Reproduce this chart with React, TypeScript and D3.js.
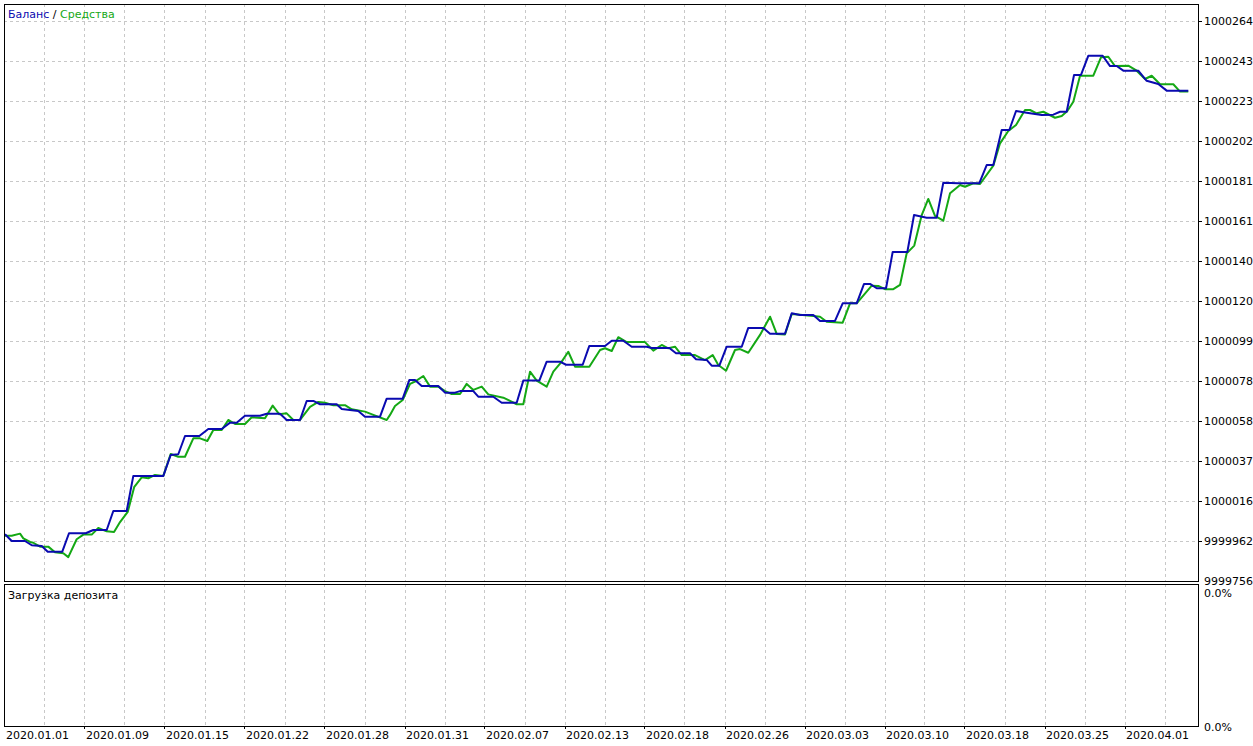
import React from 'react';
import * as d3 from 'd3';

// x: position in date-label units (label i sits at x = i); y: balance offset (chart units)
const dateLabels = [
  '2020.01.01', '2020.01.09', '2020.01.15', '2020.01.22', '2020.01.28',
  '2020.01.31', '2020.02.07', '2020.02.13', '2020.02.18', '2020.02.26',
  '2020.03.03', '2020.03.10', '2020.03.18', '2020.03.25', '2020.04.01',
];

const yTickValues = [264.4, 243.75, 223.1, 202.45, 181.8, 161.15, 140.5, 119.85, 99.2, 78.55, 57.9, 37.25, 16.6, -4.05];
const yTickLabels = ['1000264', '1000243', '1000223', '1000202', '1000181', '1000161', '1000140', '1000120', '1000099', '1000078', '1000058', '1000037', '1000016', '9999962'];
const Y_MIN = -24.96;
const Y_MAX = 273.43;
const yMinLabel = '9999756';
const loadLabels = ['0.0%', '0.0%'];

const balance: [number, number][] = [
  [0, -0.3], [0.084, -3.8], [0.25, -3.8], [0.334, -6.0], [0.459, -6.4], [0.534, -9.3], [0.716, -9.3],
  [0.8, 0.2], [1.009, 0.2], [1.104, 1.9], [1.271, 1.9], [1.354, 11.7], [1.521, 11.7], [1.604, 29.8],
  [1.979, 29.8], [2.071, 40.6], [2.166, 41.0], [2.25, 50.4], [2.429, 50.4], [2.541, 54.0], [2.709, 54.0],
  [2.813, 57.3], [2.896, 57.3], [3.0, 60.9], [3.188, 60.9], [3.271, 61.9], [3.438, 61.9], [3.521, 58.7],
  [3.688, 58.7], [3.771, 68.5], [3.854, 68.5], [3.938, 66.8], [4.146, 66.8], [4.209, 64.4], [4.416, 63.3],
  [4.5, 60.4], [4.688, 60.4], [4.771, 69.7], [4.971, 69.7], [5.054, 79.3], [5.125, 79.3], [5.209, 76.2],
  [5.416, 76.2], [5.5, 72.8], [5.625, 72.8], [5.688, 73.6], [5.854, 73.6], [5.916, 70.7], [6.104, 70.7],
  [6.209, 67.6], [6.396, 67.6], [6.479, 79.0], [6.679, 79.0], [6.771, 88.8], [6.938, 88.8], [7.013, 87.2],
  [7.221, 87.2], [7.304, 96.9], [7.5, 96.9], [7.584, 99.6], [7.729, 99.6], [7.834, 96.5], [8.021, 96.5],
  [8.084, 95.8], [8.304, 95.8], [8.388, 93.1], [8.563, 93.1], [8.638, 90.0], [8.771, 89.7], [8.834, 86.7],
  [8.929, 86.7], [9.021, 96.5], [9.209, 96.5], [9.291, 106.2], [9.479, 106.2], [9.563, 103.2], [9.75, 103.2],
  [9.834, 113.8], [9.938, 112.9], [10.104, 112.9], [10.188, 109.8], [10.375, 109.8], [10.471, 118.9],
  [10.646, 118.9], [10.738, 128.9], [10.813, 128.9], [10.896, 126.7], [11.013, 126.7], [11.096, 145.4],
  [11.279, 145.4], [11.363, 164.5], [11.521, 163.1], [11.646, 163.1], [11.729, 181.2], [11.916, 180.9],
  [12.179, 180.9], [12.271, 190.3], [12.354, 190.3], [12.459, 208.4], [12.554, 208.4], [12.638, 218.2],
  [12.771, 217.3], [12.959, 216.1], [13.104, 216.3], [13.188, 217.8], [13.271, 217.8], [13.363, 236.8],
  [13.45, 236.8], [13.541, 246.7], [13.721, 246.7], [13.813, 241.4], [13.896, 241.4], [13.979, 239.0],
  [14.166, 239.0], [14.271, 233.8], [14.416, 232.1], [14.521, 228.7], [14.791, 228.7],
];

const equity: [number, number][] = [
  [0, -1.1], [0.084, -1.1], [0.188, 0.0], [0.229, -2.4], [0.313, -4.3], [0.354, -4.7], [0.438, -6.7],
  [0.541, -6.7], [0.625, -9.6], [0.729, -10.1], [0.791, -12.1], [0.896, -2.9], [0.979, -0.5], [1.084, -0.5],
  [1.166, 2.9], [1.271, 1.2], [1.363, 0.9], [1.438, 6.0], [1.534, 11.2], [1.616, 24.2], [1.709, 29.1],
  [1.791, 28.6], [1.875, 30.3], [1.979, 29.8], [2.071, 41.1], [2.166, 39.7], [2.25, 39.7], [2.354, 49.2],
  [2.438, 49.2], [2.529, 47.8], [2.604, 53.5], [2.709, 53.5], [2.791, 58.7], [2.875, 56.6], [3.0, 56.6],
  [3.084, 60.1], [3.25, 59.6], [3.346, 66.1], [3.429, 61.6], [3.521, 62.1], [3.604, 58.7], [3.688, 58.7],
  [3.813, 65.5], [3.916, 68.0], [4.0, 67.6], [4.104, 66.3], [4.25, 66.3], [4.334, 64.2], [4.5, 63.0],
  [4.604, 61.3], [4.771, 58.7], [4.813, 61.3], [4.875, 65.9], [4.971, 69.0], [5.063, 77.3], [5.125, 78.5],
  [5.229, 81.4], [5.313, 75.9], [5.416, 75.9], [5.5, 73.6], [5.584, 72.1], [5.688, 72.1], [5.771, 77.3],
  [5.854, 74.2], [5.959, 75.9], [6.041, 71.9], [6.229, 70.2], [6.313, 68.5], [6.396, 66.8], [6.479, 66.8],
  [6.563, 83.6], [6.646, 79.0], [6.771, 75.9], [6.854, 83.6], [6.959, 88.8], [7.041, 93.9], [7.125, 86.2],
  [7.304, 86.2], [7.438, 94.8], [7.5, 95.7], [7.584, 94.3], [7.666, 101.4], [7.771, 98.9], [8.0, 98.9],
  [8.104, 94.5], [8.209, 97.4], [8.291, 95.7], [8.375, 96.5], [8.459, 92.2], [8.625, 92.2], [8.75, 89.6],
  [8.846, 92.2], [8.916, 87.1], [9.013, 84.1], [9.125, 94.8], [9.188, 95.3], [9.291, 93.4], [9.438, 102.6],
  [9.563, 112.0], [9.646, 103.1], [9.75, 102.8], [9.834, 113.4], [10.104, 112.4], [10.188, 112.0],
  [10.271, 109.4], [10.471, 108.9], [10.563, 118.9], [10.646, 118.9], [10.834, 128.0], [10.916, 127.9],
  [11.0, 126.2], [11.104, 126.2], [11.188, 128.4], [11.271, 144.7], [11.366, 148.7], [11.459, 164.5],
  [11.541, 172.8], [11.625, 164.1], [11.729, 161.6], [11.813, 175.7], [11.938, 180.0], [12.0, 179.1],
  [12.104, 180.9], [12.188, 180.5], [12.354, 190.0], [12.438, 201.5], [12.541, 207.9], [12.638, 211.0],
  [12.75, 218.7], [12.813, 218.7], [12.896, 217.0], [12.979, 217.8], [13.125, 214.7], [13.209, 215.6],
  [13.279, 218.2], [13.354, 223.0], [13.438, 236.4], [13.604, 236.4], [13.7, 245.9], [13.791, 246.2],
  [13.875, 241.4], [14.041, 241.6], [14.146, 239.0], [14.25, 234.7], [14.334, 236.4], [14.438, 232.0],
  [14.604, 232.0], [14.688, 228.2], [14.791, 228.2],
];

const BLUE = '#0a0ab0';
const GREEN = '#14a814';
const GRID = '#c8c8c8';
const FONT = '"DejaVu Sans", Verdana, sans-serif';

export default function App() {
  const left = 4, right = 1199;
  const topY = 4, mainBottom = 582, lowTop = 584, lowBottom = 726;

  const x = d3.scaleLinear().domain([0, 14]).range([5, 1125]);
  const y = d3.scaleLinear().domain([Y_MIN, Y_MAX]).range([mainBottom, topY]);
  const line = d3.line<[number, number]>().x(d => x(d[0])).y(d => y(d[1]));

  const vGrid = d3.range(1, 30).map(k => k / 2);
  const px = (v: number) => Math.floor(v) + 0.5;

  return (
    <svg width={1253} height={746} style={{ position: 'absolute', left: 0, top: 0, background: '#fff' }}
      fontFamily={FONT} fontSize={11}>
      <rect x={0} y={0} width={1253} height={746} fill="#fff" />
      {/* vertical grid, both panels */}
      {vGrid.map(g => (
        <g key={'v' + g}>
          <line x1={px(x(g))} x2={px(x(g))} y1={topY} y2={mainBottom} stroke={GRID} strokeDasharray="3,3" />
          <line x1={px(x(g))} x2={px(x(g))} y1={lowTop} y2={lowBottom} stroke={GRID} strokeDasharray="3,3" />
        </g>
      ))}
      {/* horizontal grid */}
      {yTickValues.map((v, i) => (
        <line key={'h' + i} x1={left} x2={right} y1={px(y(v))} y2={px(y(v))} stroke={GRID} strokeDasharray="3,3" />
      ))}
      {/* series */}
      <path d={line(equity) || ''} fill="none" stroke={GREEN} strokeWidth={2} strokeLinejoin="round" />
      <path d={line(balance) || ''} fill="none" stroke={BLUE} strokeWidth={2} strokeLinejoin="round" />
      {/* panel borders */}
      <rect x={left + 0.5} y={topY + 0.5} width={right - left - 1} height={mainBottom - topY - 1} fill="none" stroke="#000" />
      <line x1={left} x2={right} y1={mainBottom - 0.5} y2={mainBottom - 0.5} stroke="#000" />
      <rect x={left + 0.5} y={lowTop + 0.5} width={right - left - 1} height={lowBottom - lowTop} fill="none" stroke="#000" />
      {/* y-axis ticks and labels */}
      {yTickValues.map((v, i) => (
        <g key={'yt' + i}>
          <line x1={right - 1} x2={right + 3} y1={px(y(v))} y2={px(y(v))} stroke="#000" />
          <text x={1204} y={px(y(v))} dy="0.35em" fill="#000">{yTickLabels[i]}</text>
        </g>
      ))}
      <text x={1204} y={y(Y_MIN) - 1} dy="0.35em" fill="#000">{yMinLabel}</text>
      <text x={1204} y={lowTop + 9} dy="0.35em" fill="#000">{loadLabels[0]}</text>
      <text x={1204} y={lowBottom + 1} dy="0.35em" fill="#000">{loadLabels[1]}</text>
      {/* x-axis labels */}
      {dateLabels.map((d, i) => (
        <g key={'xl' + i}>
          {i > 0 && <line x1={px(x(i))} x2={px(x(i))} y1={lowBottom} y2={lowBottom + 3} stroke="#000" />}
          <text x={x(i) + 1} y={735} dy="0.35em" fill="#000">{d}</text>
        </g>
      ))}
      {/* legend and panel title */}
      <text x={8} y={14} dy="0.35em">
        <tspan fill={BLUE}>Баланс</tspan>
        <tspan fill="#000"> / </tspan>
        <tspan fill={GREEN}>Средства</tspan>
      </text>
      <text x={8} y={595} dy="0.35em" fill="#000">Загрузка депозита</text>
    </svg>
  );
}
